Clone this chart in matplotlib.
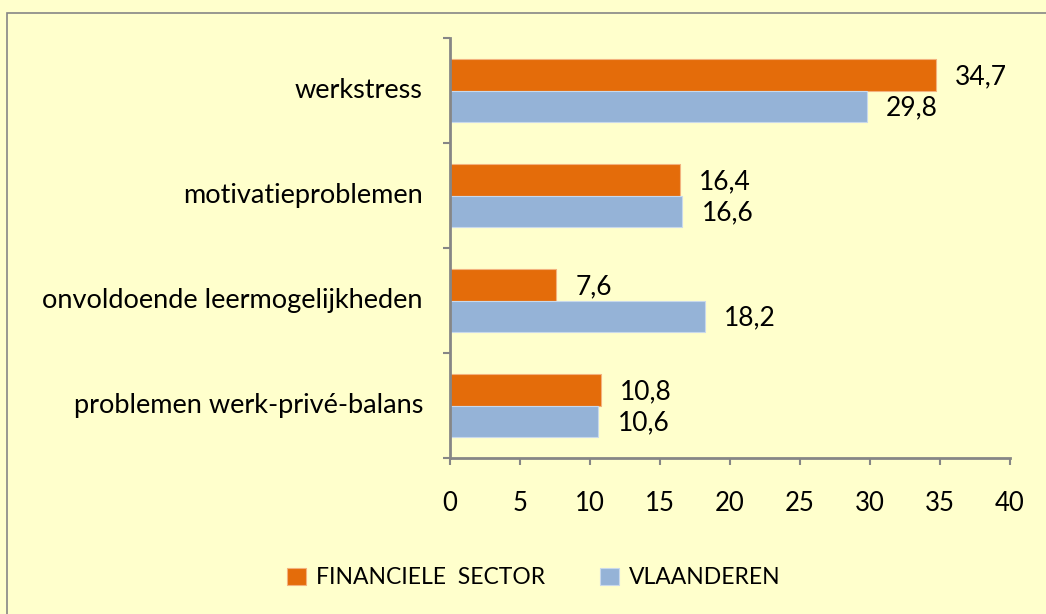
import matplotlib.pyplot as plt
from matplotlib.patches import Rectangle

plt.rcParams['font.family'] = ['Lato', 'DejaVu Sans']

# data
categorieen = ["werkstress", "motivatieproblemen", "onvoldoende leermogelijkheden",
               "problemen werk-privé-balans"]
financiele_sector = [34.7, 16.4, 7.6, 10.8]
vlaanderen = [29.8, 16.6, 18.2, 10.6]
x_ticks = [0, 5, 10, 15, 20, 25, 30, 35, 40]

oranje = "#E46C0A"
blauw = "#95B3D7"
grijs = "#868686"
achtergrond = "#FFFFCC"

fig = plt.figure(figsize=(10.46, 6.14), dpi=100)
fig.patch.set_facecolor(achtergrond)
fig.patches.append(Rectangle((7 / 1046, -0.1), 1.2, 1 - 13 / 614 + 0.1,
                             transform=fig.transFigure, fill=False,
                             edgecolor=grijs, linewidth=1.2))

ax = fig.add_axes([450 / 1046, 1 - 458 / 614, 560 / 1046, 420 / 614])
ax.set_facecolor(achtergrond)

pos = list(range(len(categorieen)))
h = 0.3
b1 = ax.barh([p - h / 2 for p in pos], financiele_sector, height=h, color=oranje,
             edgecolor="#F3B27E", linewidth=0.8, label="FINANCIELE  SECTOR")
b2 = ax.barh([p + h / 2 for p in pos], vlaanderen, height=h, color=blauw,
             edgecolor="#C9D9EB", linewidth=0.8, label="VLAANDEREN")

for bars, vals in [(b1, financiele_sector), (b2, vlaanderen)]:
    for bar, v in zip(bars, vals):
        ax.annotate(f"{v:.1f}".replace(".", ","),
                    (bar.get_width(), bar.get_y() + bar.get_height() / 2),
                    xytext=(19, -2), textcoords="offset pixels",
                    va="center", ha="left", fontsize=19)

ax.set_xlim(0, 40)
ax.set_ylim(len(categorieen) - 0.5, -0.5)
ax.set_xticks(x_ticks)
ax.set_xticklabels([str(t) for t in x_ticks], fontsize=18.5)
ax.set_yticks([p - 0.5 for p in pos] + [len(pos) - 0.5])
ax.set_yticklabels([])
ax.set_yticks(pos, minor=True)
ax.set_yticklabels(categorieen, minor=True, fontsize=19.5, va="center")
ax.tick_params(axis="y", which="major", length=5, width=1.5, color=grijs, direction="out")
ax.tick_params(axis="y", which="minor", length=0, pad=19.5)
ax.tick_params(axis="x", length=5, width=1.5, color=grijs, direction="out", pad=19)

for s in ["top", "right"]:
    ax.spines[s].set_visible(False)
for s in ["left", "bottom"]:
    ax.spines[s].set_color(grijs)
    ax.spines[s].set_linewidth(2)

fig.legend(loc="center", bbox_to_anchor=(534 / 1046, 1 - 578 / 614), ncol=2,
           frameon=False, fontsize=16.5, handlelength=0.8, handleheight=0.8,
           columnspacing=2.4, handletextpad=0.45)

fig.savefig("out.png", dpi=100, facecolor=achtergrond)
